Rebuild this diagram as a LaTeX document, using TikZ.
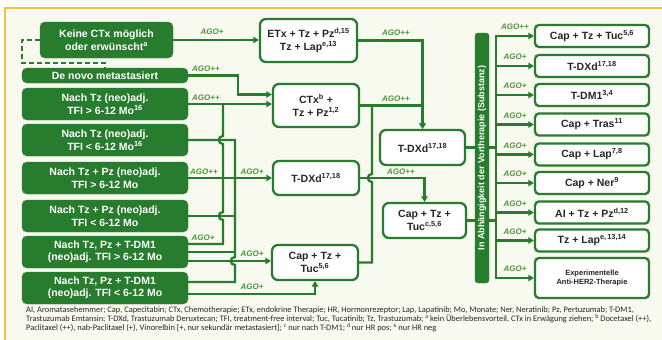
\documentclass[tikz,border=0pt]{standalone}
\usepackage{fontspec}
\setmainfont{Liberation Sans}
\newfontfamily\notefont{Carlito}
\usetikzlibrary{arrows.meta, positioning, calc}
\definecolor{agogreen}{RGB}{40, 124, 46}
\definecolor{labelgreen}{RGB}{78, 150, 58}
\definecolor{paper}{RGB}{248, 249, 239}
\definecolor{framey}{RGB}{246, 192, 66}

\begin{document}
\begin{tikzpicture}[x=1pt, y=-1pt,
        arr/.style={-{Triangle[length=5.5pt, width=6.5pt]}, line width=2.3pt, draw=agogreen},
        ln/.style={line width=2.3pt, draw=agogreen},
        sitbox/.style={draw=agogreen, fill=agogreen, rounded corners=5pt, text=white,
                    minimum width=166pt, inner sep=0pt, align=center,
                    font=\bfseries\fontsize{10.5}{12.5}\selectfont},
        thbox/.style={draw=agogreen, fill=white, line width=2.3pt, rounded corners=6pt,
                    inner sep=0pt, align=center, text=black!85,
                    font=\bfseries\fontsize{10.5}{12.5}\selectfont},
        optbox/.style={thbox, rounded corners=4pt, minimum width=114pt, minimum height=22pt},
        ago/.style={text=labelgreen, inner sep=0pt,
                    font=\bfseries\itshape\fontsize{8}{9}\selectfont}
      ]
        \useasboundingbox (0,0) rectangle (662,340);
        \fill[white] (0,0) rectangle (662,340);
        \fill[paper] (5,8) rectangle (662,340);
        \draw[framey, line width=1.5pt] (5,340) -- (5,8) -- (662,8);

        % starting situation
        \node[sitbox, minimum width=133pt, minimum height=36pt] (keine) at (106.5,40)
              {Keine CTx möglich\\oder erwünscht\textsuperscript{a}};
        \node[sitbox, minimum height=15pt] (denovo) at (105,75.5)
              {De novo metastasiert};
        \node[sitbox, minimum height=32pt] (tzlong) at (105,104)
              {Nach Tz (neo)adj.\\TFI > 6-12 Mo\textsuperscript{16}};
        \node[sitbox, minimum height=32pt] (tzshort) at (105,140)
              {Nach Tz (neo)adj.\\TFI < 6-12 Mo\textsuperscript{16}};
        \node[sitbox, minimum height=32pt] (tzpzlong) at (105,178)
              {Nach Tz + Pz (neo)adj.\\TFI > 6-12 Mo};
        \node[sitbox, minimum height=32pt] (tzpzshort) at (105,216)
              {Nach Tz + Pz (neo)adj.\\TFI < 6-12 Mo};
        \node[sitbox, minimum height=32pt] (tdmlong) at (105,252)
              {Nach Tz, Pz + T-DM1\\(neo)adj. TFI > 6-12 Mo};
        \node[sitbox, minimum height=32pt] (tdmshort) at (105,288)
              {Nach Tz, Pz + T-DM1\\(neo)adj. TFI < 6-12 Mo};

        % first and second line
        \node[thbox, minimum width=97pt, minimum height=43pt] (etx) at (308.5,40.5)
              {ETx + Tz + Pz\textsuperscript{d,15}\\Tz + Lap\textsuperscript{e,13}};
        \node[thbox, minimum width=86pt, minimum height=43pt] (ctx) at (316,105.5)
              {CTx\textsuperscript{b} +\\Tz + Pz\textsuperscript{1,2}};
        \node[thbox, minimum width=86pt, minimum height=34pt] (tdxd) at (316,178)
              {T-DXd\textsuperscript{17,18}};
        \node[thbox, minimum width=86pt, minimum height=35pt] (captuc) at (315,262.5)
              {Cap + Tz +\\Tuc\textsuperscript{5,6}};
        \node[thbox, minimum width=85pt, minimum height=35pt] (tdxdtwo) at (422.5,147.5)
              {T-DXd\textsuperscript{17,18}};
        \node[thbox, minimum width=83pt, minimum height=35pt] (captuctwo) at (424.5,220.5)
              {Cap + Tz +\\Tuc\textsuperscript{c,5,6}};

        \node[draw=agogreen, fill=agogreen, rounded corners=3pt, minimum width=14pt,
              minimum height=250pt, inner sep=0pt] (bar) at (482,158) {};
        \node[rotate=90, text=white, inner sep=0pt,
              font=\bfseries\fontsize{9}{10}\selectfont] (bartext) at (bar.center)
              {In Abhängigkeit der Vortherapie (Substanz)};

        % further lines
        \node[optbox] (r1) at (592,36) {Cap + Tz + Tuc\textsuperscript{5,6}};
        \node[optbox] (r2) at (592,66) {T-DXd\textsuperscript{17,18}};
        \node[optbox] (r3) at (592,95) {T-DM1\textsuperscript{3,4}};
        \node[optbox] (r4) at (592,124.5) {Cap + Tras\textsuperscript{11}};
        \node[optbox] (r5) at (592,154.5) {Cap + Lap\textsuperscript{7,8}};
        \node[optbox] (r6) at (592,183) {Cap + Ner\textsuperscript{9}};
        \node[optbox] (r7) at (592,212.5) {AI + Tz + Pz\textsuperscript{d,12}};
        \node[optbox] (r8) at (592,240.5) {Tz + Lap\textsuperscript{e,\,13,14}};
        \node[optbox, minimum height=40pt, font=\bfseries\fontsize{7.5}{9}\selectfont] (r9)
              at (592,278) {Experimentelle\\Anti-HER2-Therapie};

        \coordinate (rbus) at (496,0);

        % left connectors
        \draw[arr] (keine.east) -- (keine.east -| etx.west);
        \draw[ln, dash pattern=on 5pt off 3pt] (keine.west)
              -| ($(denovo.north west)+(0,-5)$) -| (denovo.north);
        \draw[arr] (denovo.east) -- ++(50,0) |- ($(ctx.west)+(0,-11)$);
        \draw[arr] (tzlong.east) -- (tzlong.east -| ctx.west);
        \draw[ln] ($(tdmlong.east)+(0,-8)$) -- (223,244) -- (223,220)
              .. controls (217.5,220) and (217.5,212) .. (223,212) -- (223,144)
              .. controls (217.5,144) and (217.5,136) .. (223,136) -- (223,104);
        \draw[ln] (tzshort.east) -- (235,140) -- (235,257)
              .. controls (229.5,257) and (229.5,265) .. (235,265) -- (235,282)
              -- ($(tdmshort.east)+(0,-6)$);
        \draw[ln] (tzpzshort.east) -- (235,216);
        \draw[ln] (tdmlong.east) -- (235,252);
        \draw[arr] (tzpzlong.east) -- (tzpzlong.east -| tdxd.west);
        \draw[arr] ($(tdmlong.east)+(0,9)$) coordinate (dmseven) -- (dmseven -| captuc.west);
        \draw[arr] ($(tdmshort.east)+(0,6)$) -| (captuc.south);

        % middle connectors
        \draw[arr] (etx.east) -| (tdxdtwo.north);
        \draw[arr] (ctx.east) -| (tdxdtwo.north);
        \draw[arr] (tdxd.east) -| (captuctwo.north);
        \draw[ln] (captuc.east) -- (372,262.5) -- (372,182)
              .. controls (366.5,182) and (366.5,174) .. (372,174) -- (372,105.5);
        \draw[ln] (tdxdtwo.east) -- (tdxdtwo.east -| bar.west);
        \draw[ln] (captuctwo.east) -- (captuctwo.east -| bar.west);
        \draw[ln] (bar.east |- tdxdtwo.east) -- (rbus |- tdxdtwo.east);
        \draw[ln] (bar.east |- captuctwo.east) -- (rbus |- captuctwo.east);

        % right connectors
        \draw[ln] ($(rbus |- r1.west)+(0,-1.1)$) -- ($(rbus |- r9.west)+(0,1.1)$);
        \foreach \r/\g in {r1/AGO++, r2/AGO+, r3/AGO+, r4/AGO+, r5/AGO+,
                           r6/AGO+, r7/AGO+, r8/AGO+, r9/AGO+} {
          \draw[arr] (rbus |- \r.west) -- (\r.west);
          \node[ago] (g-\r) at ($(rbus |- \r.west)+(19,-9)$) {\g};
        }

        % recommendation levels
        \node[ago] (g-keine) at (212,32) {AGO+};
        \node[ago] (g-denovo) at (206,69) {AGO++};
        \node[ago] (g-tzlong) at (206,98) {AGO++};
        \node[ago] (g-tzpz) at (204,172) {AGO++};
        \node[ago] (g-tdxd) at (252,172) {AGO+};
        \node[ago] (g-tdm) at (203,238) {AGO+};
        \node[ago] (g-captuc) at (252,254) {AGO+};
        \node[ago] (g-tdmshort) at (252,287) {AGO+};
        \node[ago] (g-etx) at (396,33) {AGO++};
        \node[ago] (g-ctx) at (396,99) {AGO++};
        \node[ago] (g-tdxdtwo) at (401,172) {AGO++};

        \node[anchor=north west, inner sep=0pt, align=left, text=black!85,
              font=\notefont\fontsize{8.4}{9}\selectfont] (notes) at (26,306)
              {AI, Aromatasehemmer; Cap, Capecitabin; CTx, Chemotherapie; ETx, endokrine Therapie; HR, Hormonrezeptor; Lap, Lapatinib; Mo, Monate; Ner, Neratinib; Pz, Pertuzumab; T-DM1,\\
               Trastuzumab Emtansin; T-DXd, Trastuzumab Deruxtecan; TFI, treatment-free interval; Tuc, Tucatinib; Tz, Trastuzumab; \textsuperscript{a}\,kein Überlebensvorteil, CTx in Erwägung ziehen; \textsuperscript{b}\,Docetaxel (++),\\
               Paclitaxel (++), nab-Paclitaxel (+), Vinorelbin [+, nur sekundär metastasiert]; \textsuperscript{c}\,nur nach T-DM1; \textsuperscript{d}\,nur HR pos; \textsuperscript{e}\,nur HR neg};
      \end{tikzpicture}
\end{document}
